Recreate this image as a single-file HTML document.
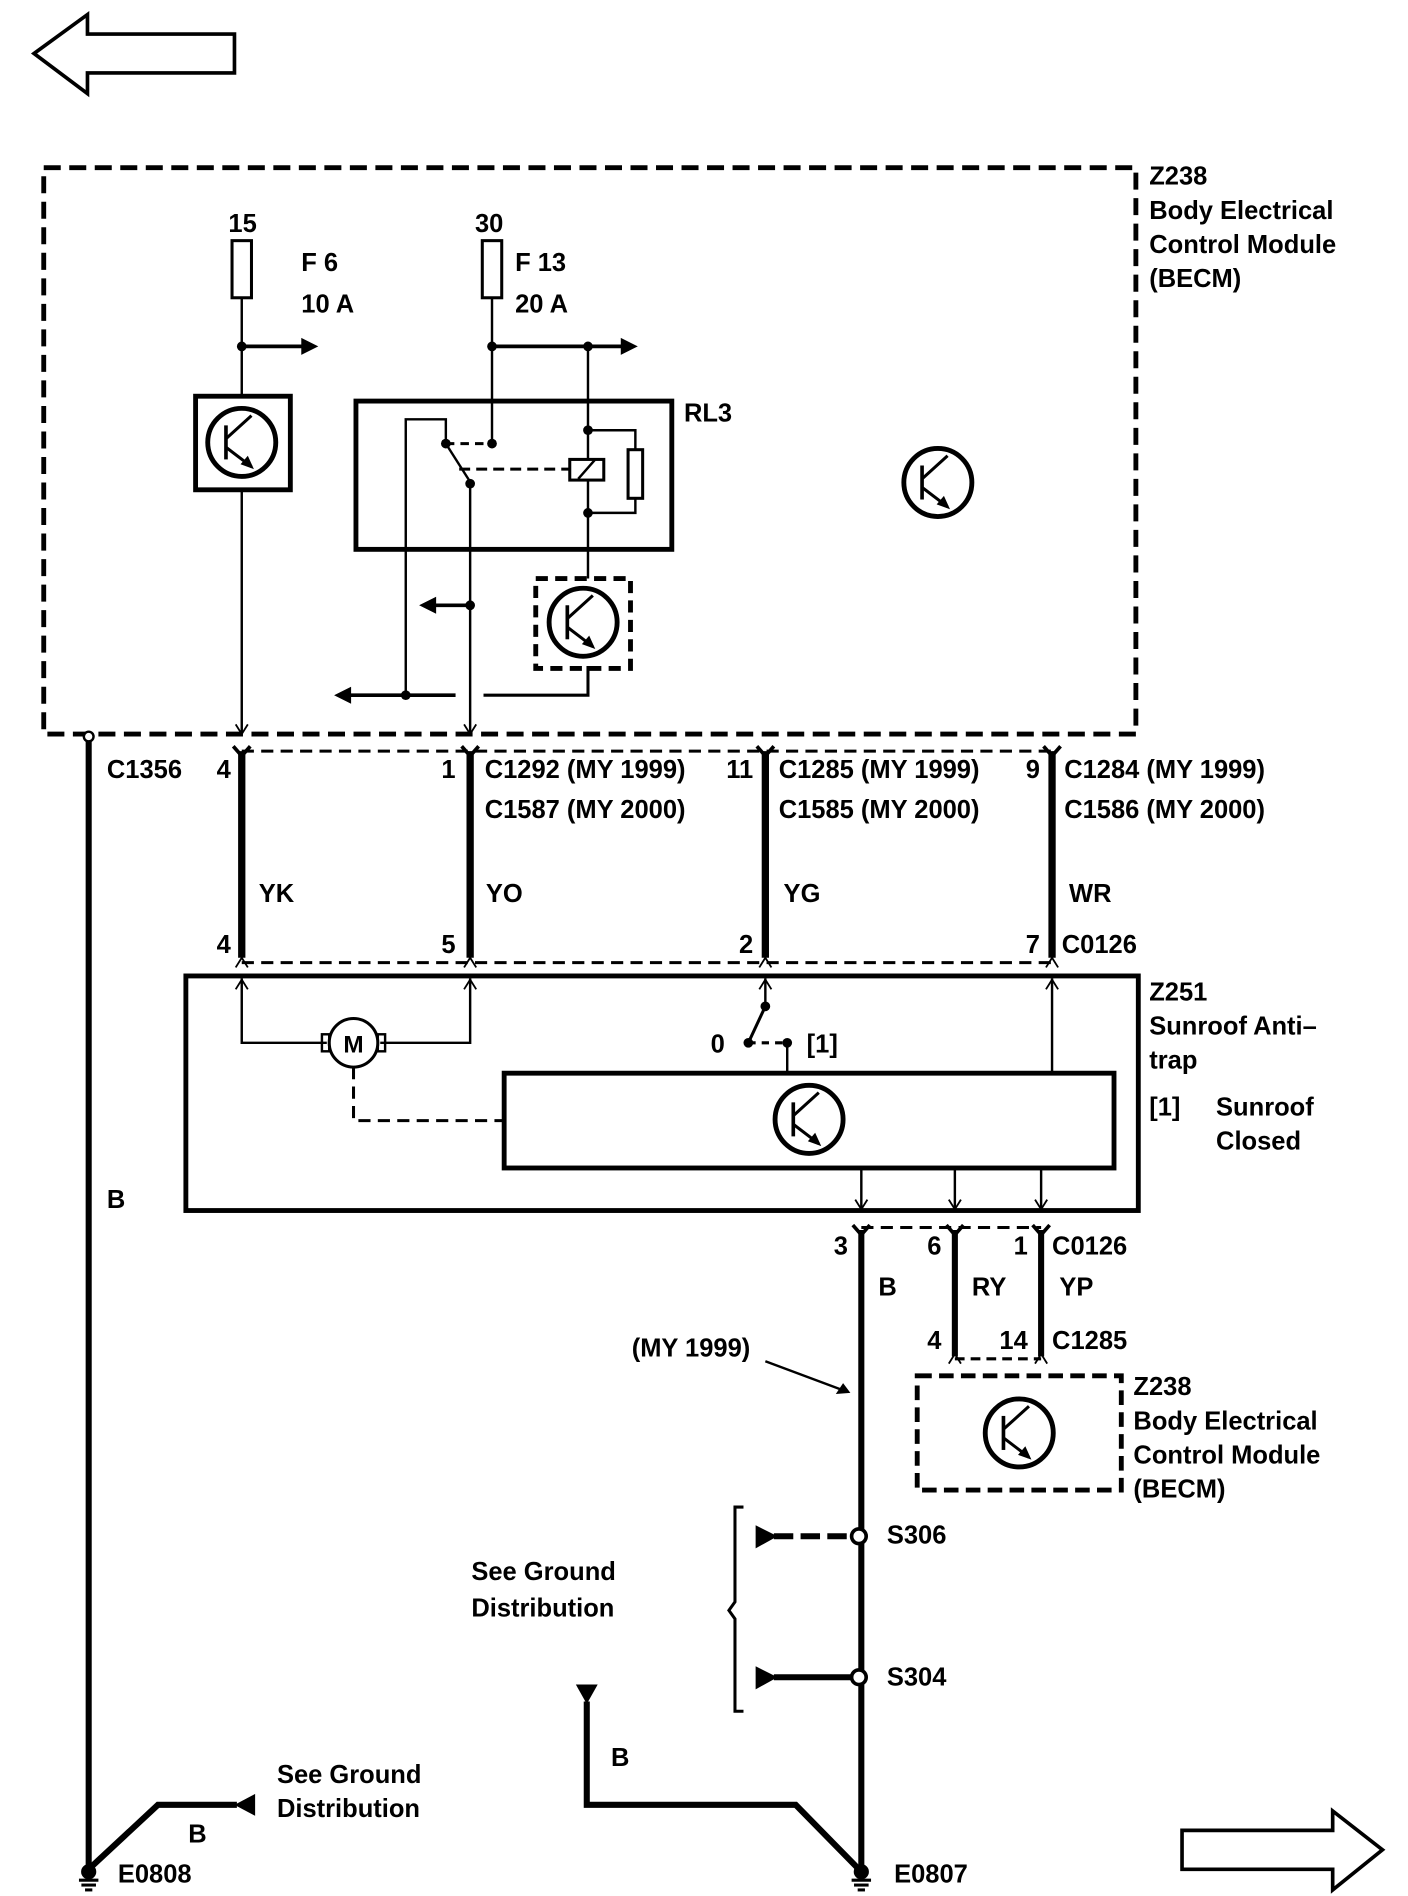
<!DOCTYPE html>
<html><head><meta charset="utf-8"><style>
html,body{margin:0;padding:0;background:#fff}
svg{display:block}
text{font-family:"Liberation Sans",Arial,sans-serif;font-weight:bold;font-size:21px;fill:#000}
</style></head><body>
<svg width="1408" height="1896" viewBox="0 0 1159 1560" preserveAspectRatio="none" xmlns="http://www.w3.org/2000/svg">
<defs>
<g id="tr">
<circle cx="0" cy="0" r="28" fill="none" stroke="#000" stroke-width="4"/>
<line x1="-13" y1="-14" x2="-13" y2="14" stroke="#000" stroke-width="3"/>
<line x1="-13" y1="-3" x2="8" y2="-22" stroke="#000" stroke-width="2.5"/>
<line x1="-13" y1="4" x2="8" y2="20" stroke="#000" stroke-width="2.5"/>
<path d="M10,22 L-1,18 L5,11 Z" fill="#000"/>
</g>
<g id="fk"><path d="M-7,-6 L0,2 L7,-6" fill="none" stroke="#000" stroke-width="3"/></g>
<g id="ad"><path d="M-5,-8 L0,0 L5,-8" fill="none" stroke="#000" stroke-width="1.5"/></g>
<g id="au"><path d="M-5,8 L0,0 L5,8" fill="none" stroke="#000" stroke-width="1.5"/></g>
</defs>
<g fill="none" stroke="#000">
<path d="M28,44 L72,12 L72,28 L193,28 L193,60 L72,60 L72,77 Z" stroke-width="3"/>
<path d="M1138,1522 L1097,1490 L1097,1506 L973,1506 L973,1538 L1097,1538 L1097,1555 Z" stroke-width="3"/>
<rect x="36" y="138" width="899" height="466" stroke-width="4" stroke-dasharray="14,7"/>
<rect x="191" y="198" width="16" height="47" stroke-width="2.5"/>
<line x1="199" y1="245" x2="199" y2="326" stroke-width="2"/>
<line x1="199" y1="403" x2="199" y2="604" stroke-width="2"/>
<line x1="199" y1="285" x2="250" y2="285" stroke-width="3"/>
<rect x="161" y="326" width="78" height="77" stroke-width="4"/>
<rect x="397" y="198" width="16" height="47" stroke-width="2.5"/>
<line x1="405" y1="245" x2="405" y2="365" stroke-width="2"/>
<line x1="405" y1="285" x2="513" y2="285" stroke-width="3"/>
<line x1="484" y1="285" x2="484" y2="476" stroke-width="2"/>
<rect x="293" y="330" width="260" height="122" stroke-width="4"/>
<path d="M334,572 L334,345 L367,345 L367,365" stroke-width="2"/>
<line x1="367" y1="365" x2="388" y2="398" stroke-width="2"/>
<line x1="367" y1="365" x2="405" y2="365" stroke-width="2.5" stroke-dasharray="7,5"/>
<line x1="378" y1="386" x2="469" y2="386" stroke-width="2.5" stroke-dasharray="9,5"/>
<rect x="469" y="378" width="28" height="17" fill="#fff" stroke-width="2.5"/>
<line x1="476" y1="394" x2="490" y2="378" stroke-width="2"/>
<path d="M484,354 L523,354 L523,370 M523,410 L523,422 L484,422" stroke-width="2"/>
<rect x="517" y="370" width="12" height="40" stroke-width="2.5"/>
<line x1="387" y1="398" x2="387" y2="604" stroke-width="2"/>
<line x1="387" y1="498" x2="355" y2="498" stroke-width="3"/>
<line x1="286" y1="572" x2="375" y2="572" stroke-width="3"/>
<path d="M398,572 L484,572 L484,548" stroke-width="2.5"/>
<rect x="441" y="476" width="78" height="74" stroke-width="4" stroke-dasharray="10,6"/>
<line x1="73" y1="610" x2="73" y2="1538" stroke-width="5"/>
<path d="M73,1538 L130,1485 L195,1485" stroke-width="5"/>
<line x1="199" y1="618" x2="866" y2="618" stroke-width="2.5" stroke-dasharray="10,6"/>
<line x1="199" y1="792" x2="866" y2="792" stroke-width="2.5" stroke-dasharray="10,6"/>
<line x1="199" y1="618" x2="199" y2="788" stroke-width="6"/>
<line x1="387" y1="618" x2="387" y2="788" stroke-width="6"/>
<line x1="630" y1="618" x2="630" y2="788" stroke-width="6"/>
<line x1="866" y1="618" x2="866" y2="788" stroke-width="6"/>
<rect x="153" y="803" width="784" height="193" stroke-width="4"/>
<path d="M199,805 L199,858 L269,858 M313,858 L387,858 L387,805" stroke-width="2"/>
<circle cx="291" cy="858" r="20" stroke-width="2.5"/>
<rect x="265" y="851" width="6" height="14" stroke-width="2"/>
<rect x="311" y="851" width="6" height="14" stroke-width="2"/>
<path d="M291,878 L291,922 L415,922" stroke-width="2.5" stroke-dasharray="10,6"/>
<line x1="630" y1="805" x2="630" y2="828" stroke-width="2"/>
<line x1="630" y1="828" x2="616" y2="858" stroke-width="2.5"/>
<line x1="616" y1="858" x2="648" y2="858" stroke-width="2.5" stroke-dasharray="6,5"/>
<line x1="648" y1="858" x2="648" y2="883" stroke-width="2"/>
<line x1="866" y1="805" x2="866" y2="883" stroke-width="2"/>
<rect x="415" y="883" width="502" height="78" stroke-width="4"/>
<line x1="709" y1="961" x2="709" y2="996" stroke-width="2"/>
<line x1="786" y1="961" x2="786" y2="996" stroke-width="2"/>
<line x1="857" y1="961" x2="857" y2="996" stroke-width="2"/>
<line x1="709" y1="1010" x2="857" y2="1010" stroke-width="2.5" stroke-dasharray="10,6"/>
<line x1="709" y1="1012" x2="709" y2="1538" stroke-width="5"/>
<line x1="786" y1="1012" x2="786" y2="1116" stroke-width="5"/>
<line x1="857" y1="1012" x2="857" y2="1116" stroke-width="5"/>
<line x1="786" y1="1118" x2="857" y2="1118" stroke-width="2.5" stroke-dasharray="8,5"/>
<rect x="755" y="1132" width="168" height="94" stroke-width="4" stroke-dasharray="12,6"/>
<line x1="630" y1="1120" x2="697" y2="1145" stroke-width="2"/>
<line x1="637" y1="1264" x2="707" y2="1264" stroke-width="5" stroke-dasharray="16,6"/>
<line x1="637" y1="1380" x2="707" y2="1380" stroke-width="5"/>
<path d="M612,1240 L605,1240 L605,1318 L600,1325 L605,1332 L605,1408 L612,1408" stroke-width="2.5"/>
<path d="M483,1400 L483,1485 L655,1485 L707,1538" stroke-width="5"/>
</g>
<g fill="#000">
<path d="M262,285 L248,278 L248,292 Z"/>
<path d="M525,285 L511,278 L511,292 Z"/>
<path d="M345,498 L359,491 L359,505 Z"/>
<path d="M275,572 L289,565 L289,579 Z"/>
<path d="M700,1146 L688,1147 L694,1138 Z"/>
<circle cx="199" cy="285" r="4"/><circle cx="405" cy="285" r="4"/><circle cx="484" cy="285" r="4"/>
<circle cx="405" cy="365" r="4"/><circle cx="367" cy="365" r="4"/><circle cx="387" cy="398" r="4"/>
<circle cx="484" cy="354" r="4"/><circle cx="484" cy="422" r="4"/><circle cx="387" cy="498" r="4"/>
<circle cx="334" cy="572" r="4"/><circle cx="630" cy="828" r="4"/><circle cx="616" cy="858" r="4"/><circle cx="648" cy="858" r="4"/>
<path d="M622,1255 L640,1264 L622,1274 Z"/>
<path d="M622,1371 L640,1380 L622,1390 Z"/>
<path d="M474,1386 L492,1386 L483,1402 Z"/>
<path d="M193,1485 L210,1476 L210,1494 Z"/>
</g>
<circle cx="707" cy="1264" r="6" fill="#fff" stroke="#000" stroke-width="3"/>
<circle cx="707" cy="1380" r="6" fill="#fff" stroke="#000" stroke-width="3"/>
<circle cx="73" cy="606" r="4" fill="#fff" stroke="#000" stroke-width="2"/>
<g stroke="#000" stroke-width="2.5">
<circle cx="73" cy="1540" r="5" fill="#000"/>
<line x1="65" y1="1547" x2="81" y2="1547"/><line x1="67" y1="1551" x2="79" y2="1551"/><line x1="70" y1="1555" x2="76" y2="1555"/>
<circle cx="709" cy="1540" r="5" fill="#000"/>
<line x1="701" y1="1547" x2="717" y2="1547"/><line x1="703" y1="1551" x2="715" y2="1551"/><line x1="706" y1="1555" x2="712" y2="1555"/>
</g>
<use href="#tr" x="199" y="364"/>
<use href="#tr" x="480" y="512"/>
<use href="#tr" x="772" y="397"/>
<use href="#tr" x="666" y="921"/>
<use href="#tr" x="839" y="1179"/>
<use href="#ad" x="199" y="604"/><use href="#ad" x="387" y="604"/>
<use href="#fk" x="199" y="620"/><use href="#fk" x="387" y="620"/><use href="#fk" x="630" y="620"/><use href="#fk" x="866" y="620"/>
<use href="#au" x="199" y="788"/><use href="#au" x="387" y="788"/><use href="#au" x="630" y="788"/><use href="#au" x="866" y="788"/>
<use href="#au" x="199" y="806"/><use href="#au" x="387" y="806"/><use href="#au" x="630" y="806"/><use href="#au" x="866" y="806"/>
<use href="#ad" x="709" y="995"/><use href="#ad" x="786" y="995"/><use href="#ad" x="857" y="995"/>
<use href="#fk" x="709" y="1014"/><use href="#fk" x="786" y="1014"/><use href="#fk" x="857" y="1014"/>
<use href="#au" x="786" y="1114"/><use href="#au" x="857" y="1114"/>
<text x="291" y="866" text-anchor="middle" style="font-size:20px">M</text>
<text x="946" y="152">Z238</text><text x="946" y="180">Body Electrical</text><text x="946" y="208">Control Module</text><text x="946" y="236">(BECM)</text>
<text x="188" y="191">15</text><text x="391" y="191">30</text>
<text x="248" y="223">F 6</text><text x="248" y="257">10 A</text>
<text x="424" y="223">F 13</text><text x="424" y="257">20 A</text>
<text x="563" y="347">RL3</text>
<text x="88" y="640">C1356</text>
<text x="190" y="640" text-anchor="end">4</text><text x="375" y="640" text-anchor="end">1</text>
<text x="620" y="640" text-anchor="end">11</text><text x="856" y="640" text-anchor="end">9</text>
<text x="399" y="640">C1292 (MY 1999)</text><text x="399" y="673">C1587 (MY 2000)</text>
<text x="641" y="640">C1285 (MY 1999)</text><text x="641" y="673">C1585 (MY 2000)</text>
<text x="876" y="640">C1284  (MY 1999)</text><text x="876" y="673">C1586  (MY 2000)</text>
<text x="213" y="742">YK</text><text x="400" y="742">YO</text><text x="645" y="742">YG</text><text x="880" y="742">WR</text>
<text x="190" y="784" text-anchor="end">4</text><text x="375" y="784" text-anchor="end">5</text>
<text x="620" y="784" text-anchor="end">2</text><text x="856" y="784" text-anchor="end">7</text>
<text x="874" y="784">C0126</text>
<text x="946" y="823">Z251</text><text x="946" y="851">Sunroof Anti–</text><text x="946" y="879">trap</text>
<text x="946" y="918">[1]</text><text x="1001" y="918">Sunroof</text><text x="1001" y="946">Closed</text>
<text x="585" y="866">0</text><text x="664" y="866">[1]</text>
<text x="88" y="994">B</text>
<text x="698" y="1032" text-anchor="end">3</text><text x="775" y="1032" text-anchor="end">6</text><text x="846" y="1032" text-anchor="end">1</text>
<text x="866" y="1032">C0126</text>
<text x="723" y="1066">B</text><text x="800" y="1066">RY</text><text x="872" y="1066">YP</text>
<text x="775" y="1110" text-anchor="end">4</text><text x="846" y="1110" text-anchor="end">14</text><text x="866" y="1110">C1285</text>
<text x="520" y="1116">(MY 1999)</text>
<text x="933" y="1148">Z238</text><text x="933" y="1176">Body Electrical</text><text x="933" y="1204">Control Module</text><text x="933" y="1232">(BECM)</text>
<text x="730" y="1270">S306</text><text x="730" y="1387">S304</text>
<text x="388" y="1300">See Ground</text><text x="388" y="1330">Distribution</text>
<text x="503" y="1453">B</text>
<text x="228" y="1467">See Ground</text><text x="228" y="1495">Distribution</text>
<text x="155" y="1516">B</text>
<text x="97" y="1549">E0808</text><text x="736" y="1549">E0807</text>
</svg>
</body></html>
